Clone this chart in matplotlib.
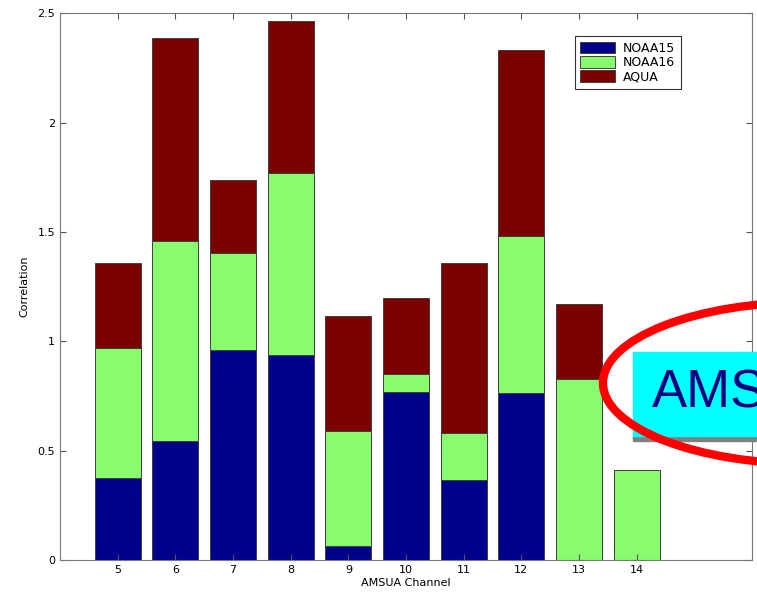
import numpy as np
import matplotlib.pyplot as plt
from matplotlib.patches import Ellipse, Rectangle

channels = [5, 6, 7, 8, 9, 10, 11, 12, 13, 14]
noaa15 = [0.375, 0.544, 0.960, 0.937, 0.064, 0.768, 0.366, 0.763, 0.0, 0.0]
noaa16 = [0.595, 0.914, 0.443, 0.832, 0.526, 0.082, 0.214, 0.717, 0.827, 0.410]
aqua = [0.390, 0.928, 0.334, 0.694, 0.525, 0.347, 0.777, 0.850, 0.343, 0.0]
series_names = ['NOAA15', 'NOAA16', 'AQUA']
series_colors = ['#00008a', '#88fc6e', '#7a0000']
ytick_values = [0, 0.5, 1, 1.5, 2, 2.5]
ytick_labels = ['0', '0.5', '1', '1.5', '2', '2.5']

fig = plt.figure(figsize=(7.57, 5.98), dpi=100)
ax = fig.add_axes([0.0793, 0.0635, 0.9141, 0.9145])

bottom = np.zeros(len(channels))
for vals, name, col in zip([noaa15, noaa16, aqua], series_names, series_colors):
    vals = np.array(vals)
    ax.bar(channels, vals, width=0.8, bottom=bottom, color=col,
           edgecolor='#404040', linewidth=0.7, label=name)
    bottom += vals

ax.set_xlim(4, 16)
ax.set_ylim(0, 2.5)
ax.set_xticks(channels)
ax.set_xticklabels([str(c) for c in channels])
ax.set_yticks(ytick_values)
ax.set_yticklabels(ytick_labels)
ax.tick_params(direction='in', top=True, right=True, labelsize=8, length=4,
               color='#555555')
for s in ax.spines.values():
    s.set_color('#777777')
ax.set_xlabel('AMSUA Channel', fontsize=8, labelpad=2)
ax.set_ylabel('Correlation', fontsize=8, labelpad=6)

leg = ax.legend(loc='upper left', bbox_to_anchor=(0.744, 0.958), fontsize=9,
                frameon=True, fancybox=False, edgecolor='#333333',
                framealpha=1, handlelength=2.8, handleheight=1.05,
                borderpad=0.45, labelspacing=0.1, handletextpad=0.6,
                borderaxespad=0)
leg.get_frame().set_linewidth(0.8)
leg.set_zorder(5)

# slide overlay: highlighted label inside a red ellipse
shadow = Rectangle((633 / 757, (598 - 441) / 598), 0.3, (441 - 436) / 598 + 0.001,
                   transform=fig.transFigure, color='#808080', zorder=10)
box = Rectangle((633 / 757, (598 - 436) / 598), 0.3, 84 / 598,
                transform=fig.transFigure, color='#00ffff', zorder=11)
fig.add_artist(shadow)
fig.add_artist(box)
fig.text(652 / 757, (598 - 394) / 598, 'AMS', fontsize=38, color='#000080',
         family='Liberation Sans', va='center', ha='left', zorder=12)
ell = Ellipse((810 / 757, (598 - 383) / 598), 2 * 207 / 757, 2 * 81 / 598,
              transform=fig.transFigure, fill=False, edgecolor='#ff0000',
              linewidth=6, zorder=13)
fig.add_artist(ell)

fig.savefig('out.png', dpi=100)
